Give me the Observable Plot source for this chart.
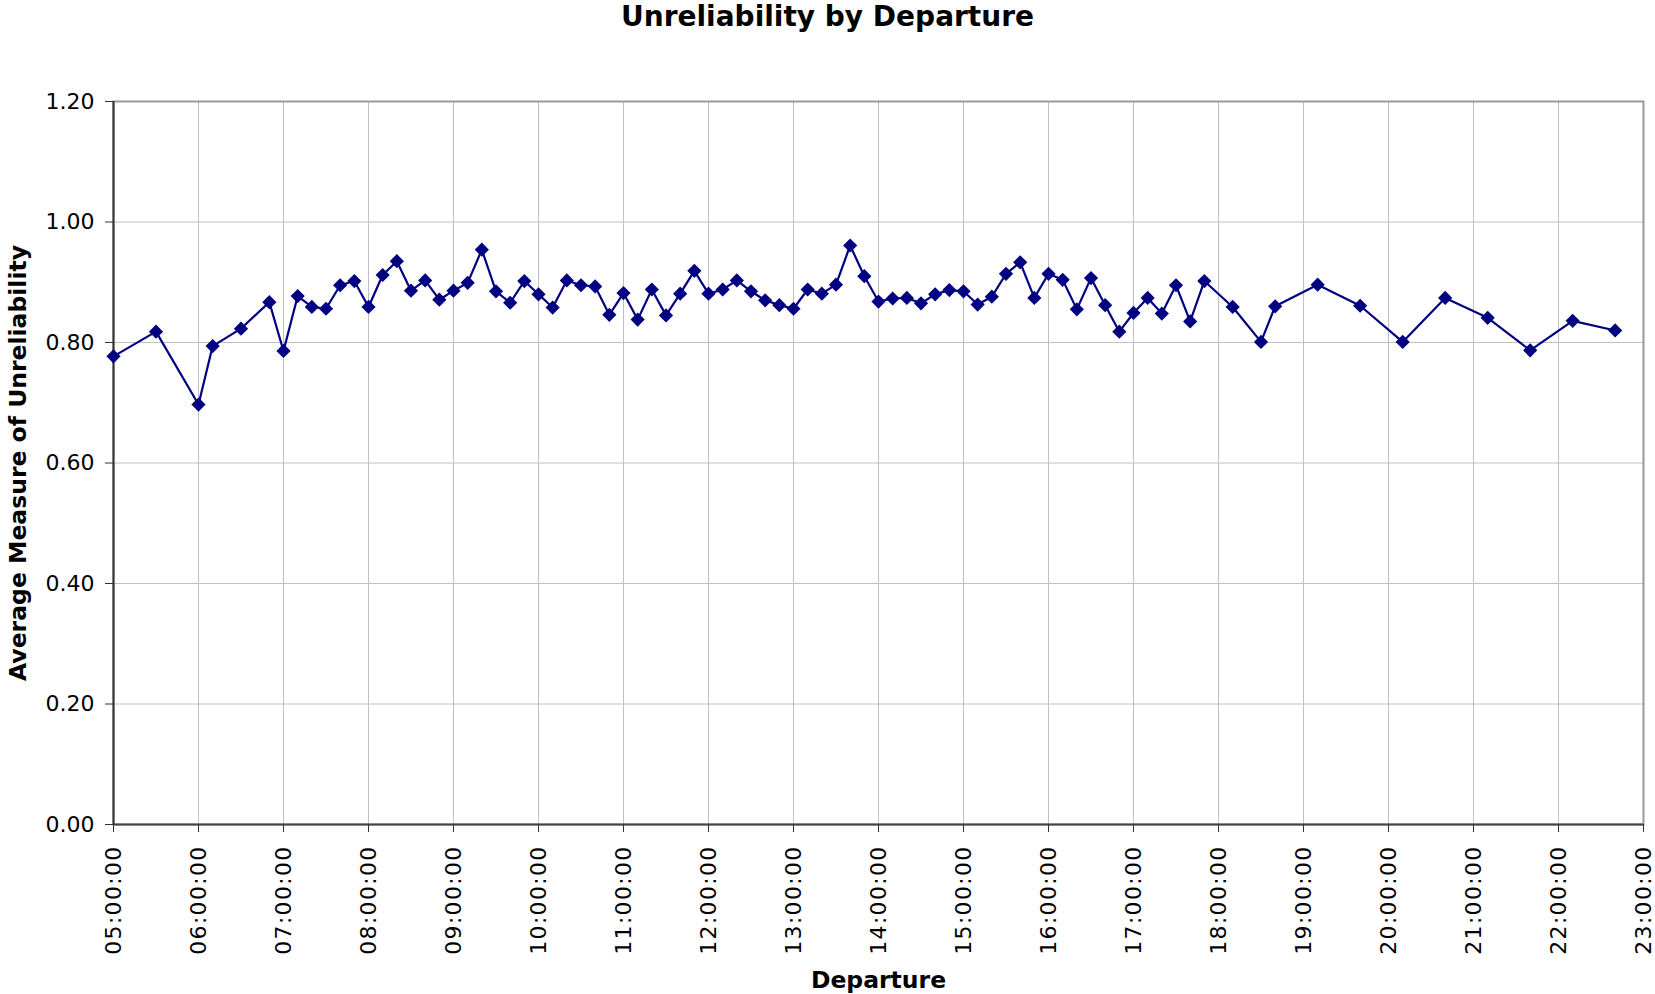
<!DOCTYPE html>
<html>
<head>
<meta charset="utf-8">
<script src="https://cdn.jsdelivr.net/npm/d3@7"></script>
<script src="https://cdn.jsdelivr.net/npm/@observablehq/plot@0.6"></script>
<style>
  html, body { margin: 0; padding: 0; background: #fff; }
  #title { width: 1655px; height: 34px; line-height: 34px; text-align: center;
           font-family: "DejaVu Sans", Verdana, sans-serif; font-weight: bold; font-size: 28px; color: #000; }
  g[aria-label="x-axis tick label"] text { letter-spacing: 1.3px; }
</style>
</head>
<body>
<div id="title">Unreliability by Departure</div>
<div id="chart"></div>
<script>
const departures = ["05:00","05:30","06:00","06:10","06:30","06:50","07:00","07:10","07:20","07:30","07:40","07:50",
  "08:00","08:10","08:20","08:30","08:40","08:50","09:00","09:10","09:20","09:30","09:40","09:50",
  "10:00","10:10","10:20","10:30","10:40","10:50","11:00","11:10","11:20","11:30","11:40","11:50",
  "12:00","12:10","12:20","12:30","12:40","12:50","13:00","13:10","13:20","13:30","13:40","13:50",
  "14:00","14:10","14:20","14:30","14:40","14:50","15:00","15:10","15:20","15:30","15:40","15:50",
  "16:00","16:10","16:20","16:30","16:40","16:50","17:00","17:10","17:20","17:30","17:40","17:50",
  "18:10","18:30","18:40","19:10","19:40","20:10","20:40","21:10","21:40","22:10","22:40"];
const unreliability = [0.777,0.818,0.697,0.794,0.823,0.867,0.786,0.877,0.859,0.856,0.895,0.902,
  0.859,0.912,0.935,0.886,0.903,0.871,0.886,0.899,0.954,0.885,0.866,0.902,
  0.880,0.858,0.903,0.895,0.893,0.846,0.882,0.838,0.888,0.845,0.881,0.919,
  0.881,0.888,0.903,0.885,0.870,0.862,0.856,0.888,0.881,0.896,0.961,0.910,
  0.868,0.873,0.874,0.865,0.880,0.887,0.885,0.863,0.876,0.914,0.933,0.874,
  0.914,0.904,0.855,0.907,0.862,0.818,0.849,0.874,0.848,0.895,0.835,0.902,
  0.859,0.801,0.860,0.896,0.861,0.801,0.874,0.841,0.787,0.836,0.820];
const hourTicks = [5,6,7,8,9,10,11,12,13,14,15,16,17,18,19,20,21,22,23];
const yTicks = [0,0.2,0.4,0.6,0.8,1.0,1.2];

const data = departures.map((t, i) => {
  const [h, m] = t.split(":").map(Number);
  return {hour: h + m / 60, value: unreliability[i]};
});
const fmtHour = h => String(h).padStart(2, "0") + ":00:00";

const chart = Plot.plot({
  width: 1655,
  height: 960,
  marginTop: 67,
  marginBottom: 170,
  marginLeft: 113,
  marginRight: 12,
  style: {fontFamily: "DejaVu Sans, Verdana, sans-serif", fontSize: "22px", color: "#000", background: "#fff"},
  x: {domain: [5, 23]},
  y: {domain: [0, 1.2]},
  marks: [
    Plot.gridX(hourTicks, {stroke: "#c0c0c0", strokeOpacity: 1, strokeWidth: 1}),
    Plot.gridY(yTicks, {stroke: "#c0c0c0", strokeOpacity: 1, strokeWidth: 1}),
    Plot.frame({stroke: "#999", strokeWidth: 2}),
    Plot.ruleX([5], {stroke: "#333", strokeWidth: 2}),
    Plot.ruleY([0], {stroke: "#444", strokeWidth: 2}),
    Plot.axisY(yTicks, {tickFormat: d => d.toFixed(2), tickSize: 8, tickPadding: 11, stroke: "#333", fill: "#000", label: null, fontSize: 22}),
    Plot.axisX(hourTicks, {tickFormat: fmtHour, tickSize: 8, tickPadding: 13, tickRotate: -90, stroke: "#333", fill: "#000", label: null, fontSize: 22}),
    Plot.line(data, {x: "hour", y: "value", stroke: "#000080", strokeWidth: 2.2}),
    Plot.dot(data, {x: "hour", y: "value", symbol: "diamond2", r: 6.4, fill: "#000080", stroke: "none"}),
    Plot.text(["Departure"], {frameAnchor: "bottom", text: d => d, dy: 163, fontWeight: "bold", fontSize: 23.5, fill: "#000"}),
    Plot.text(["Average Measure of Unreliability"], {frameAnchor: "left", textAnchor: "middle", text: d => d, dx: -95, rotate: -90, fontWeight: "bold", fontSize: 23.5, fill: "#000"})
  ]
});
document.getElementById("chart").appendChild(chart);
</script>
</body>
</html>
